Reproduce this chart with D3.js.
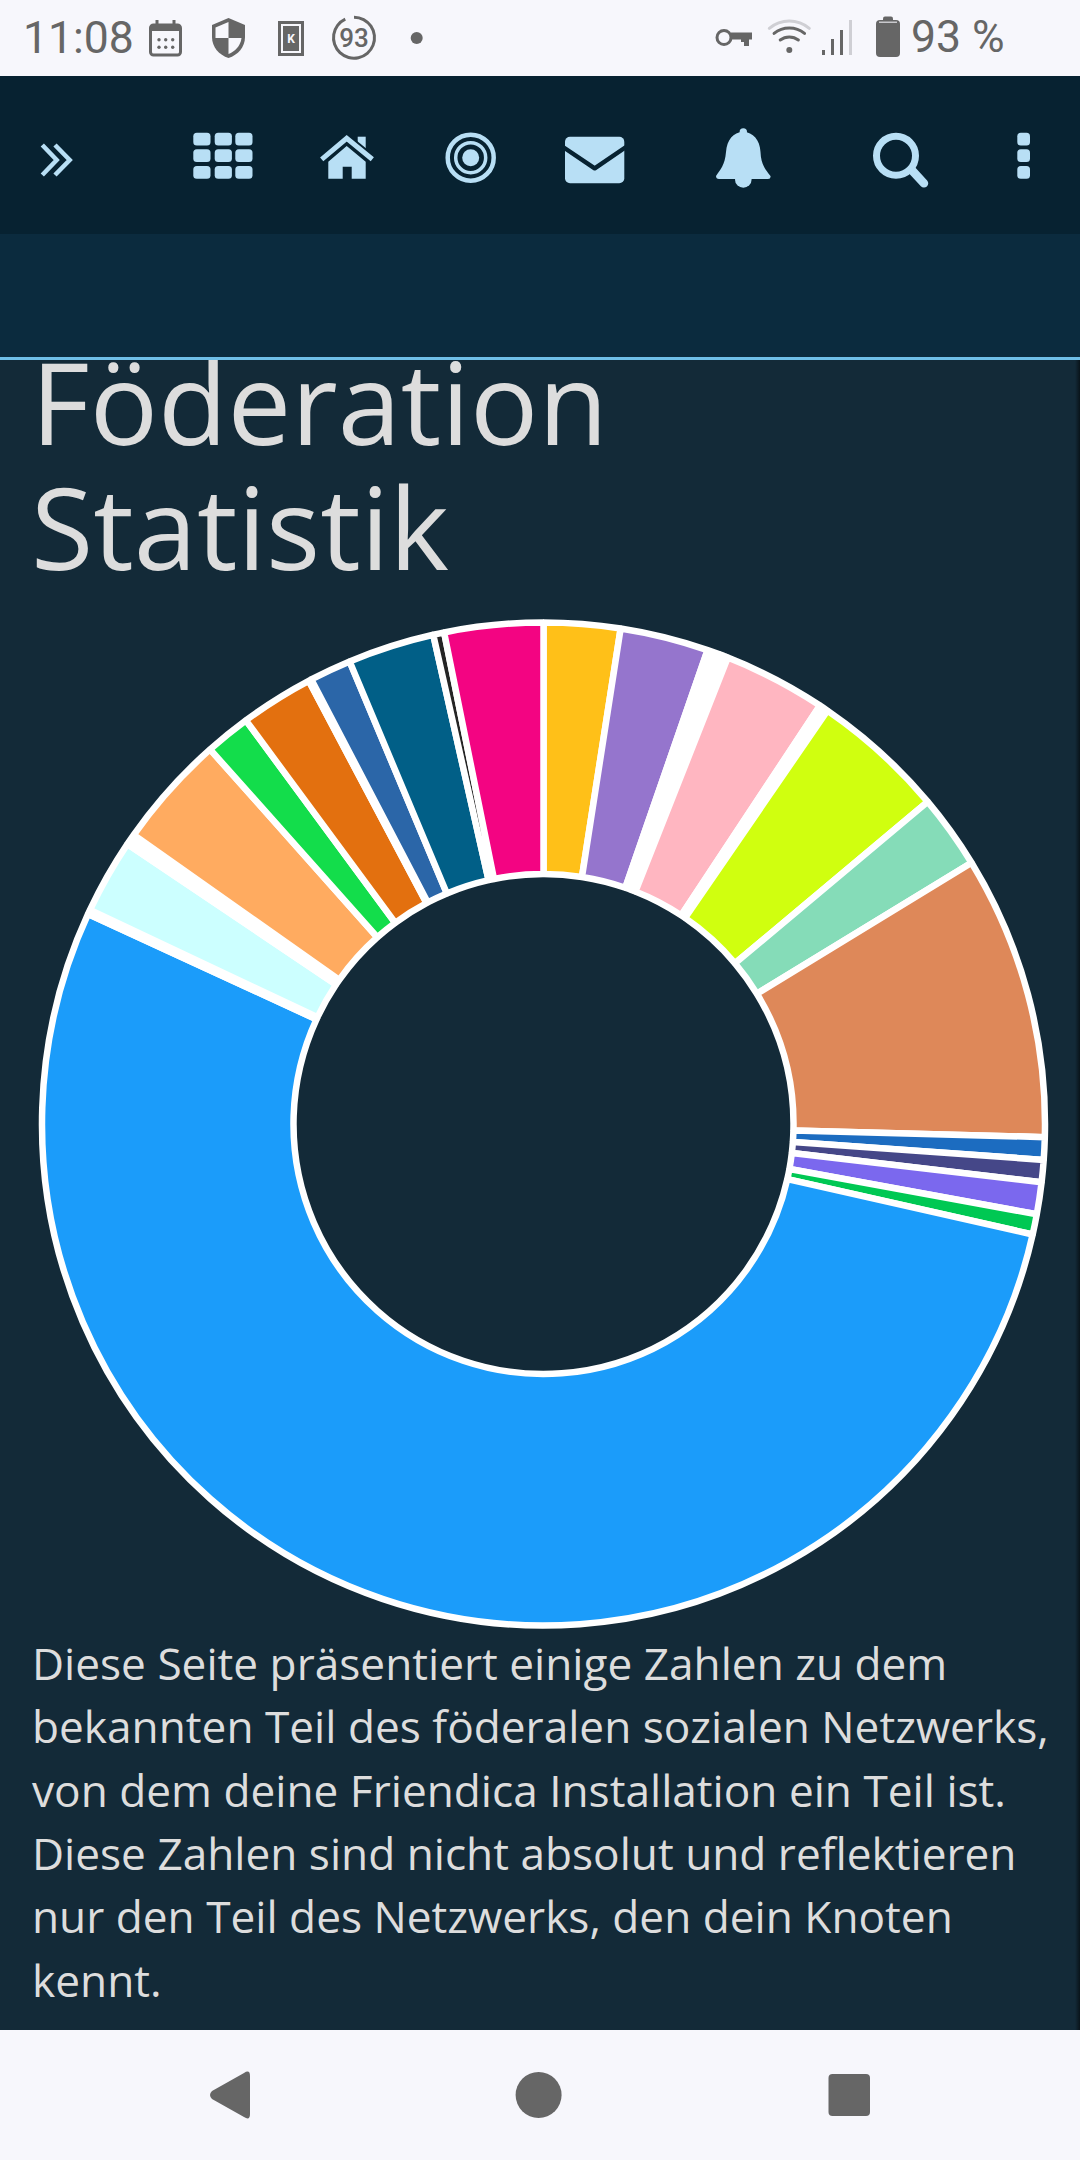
<!DOCTYPE html>
<html lang="de">
<head>
<meta charset="utf-8">
<title>Föderation Statistik</title>
<script src="https://cdn.jsdelivr.net/npm/d3@7"></script>
<style>
html, body { margin: 0; padding: 0; background: #132a38; }
svg { display: block; }
</style>
</head>
<body>
<svg id="page"></svg>
<script>
// slice shares, in degrees of the ring, clockwise from 12 o'clock
const shares = [8.85, 10.25, 1.45, 0.7, 0.31, 11.89, 1.03, 15.52, 8.6, 32.9, 2.61, 2.56, 3.7, 2.36,
    192.03, 0.51, 8.65, 1.29, 13.12, 5.27, 8.49, 0.33, 4.84, 10.04, 1.27, 11.43];
const palette = ["#ffc018", "#9575cd", "#ffffff", "#9e9e9e", "#ffffff", "#ffb6c1", "#ffffff", "#d0ff0f",
    "#85dcb8", "#de8859", "#1c6cc0", "#454788", "#7b68ee", "#00c853",
    "#1b9cfa", "#ffffff", "#ccffff", "#ffffff", "#ffab60", "#13dd4b", "#e3700f", "#ffffff",
    "#2b66a8", "#015f87", "#252525", "#f30482"];
const titleLines = ["Föderation", "Statistik"];
const introLines = [
    "Diese Seite präsentiert einige Zahlen zu dem",
    "bekannten Teil des föderalen sozialen Netzwerks,",
    "von dem deine Friendica Installation ein Teil ist.",
    "Diese Zahlen sind nicht absolut und reflektieren",
    "nur den Teil des Netzwerks, den dein Knoten",
    "kennt."
];
const batteryPercent = 93;

const width = 1080, height = 2160;
const grey = "#666666", chrome = "#f7f7fc", iconBlue = "#b8dff5", headerDark = "#072231";

const svg = d3.select("#page").attr("width", width).attr("height", height)
    .attr("viewBox", `0 0 ${width} ${height}`);

svg.append("rect").attr("width", width).attr("height", height).attr("fill", "#132a38");

// page text first, the fixed header sits on top of it and cuts the title
svg.append("g").selectAll("text").data(titleLines).join("text")
    .attr("x", 31).attr("y", (d, i) => 445 + i * 125)
    .attr("font-family", "'Open Sans'").attr("font-size", 113.6).attr("fill", "#dddddd")
    .text(d => d);

svg.append("g").selectAll("text").data(introLines).join("text")
    .attr("x", 32).attr("y", (d, i) => 1680 + i * 63.3)
    .attr("font-family", "'Open Sans'").attr("font-size", 44.2).attr("fill", "#dddddd")
    .text(d => d);

// the doughnut
const color = d3.scaleOrdinal().domain(d3.range(shares.length)).range(palette);
const pie = d3.pie().sort(null).value(d => d);
const arc = d3.arc().innerRadius(250).outerRadius(501.5);

svg.append("g").attr("transform", "translate(543.5,1124)")
    .selectAll("path").data(pie(shares)).join("path")
    .attr("d", arc)
    .attr("fill", (d, i) => color(i))
    .attr("stroke", "#ffffff").attr("stroke-width", 6.5).attr("stroke-linejoin", "bevel");

// right edge shadow of the scroll area
const edge = svg.append("defs").append("linearGradient").attr("id", "edge");
edge.append("stop").attr("offset", 0).attr("stop-color", "#000").attr("stop-opacity", 0);
edge.append("stop").attr("offset", 1).attr("stop-color", "#000").attr("stop-opacity", 0.55);
svg.append("rect").attr("x", 1075).attr("y", 234).attr("width", 5).attr("height", 1796).attr("fill", "url(#edge)");

// header bands
svg.append("rect").attr("y", 76).attr("width", width).attr("height", 158).attr("fill", headerDark);
svg.append("rect").attr("y", 234).attr("width", width).attr("height", 123).attr("fill", "#0b2b3e");
svg.append("rect").attr("y", 357).attr("width", width).attr("height", 3).attr("fill", "#6fbfe8");

// status bar and android nav bar
svg.append("rect").attr("width", width).attr("height", 76).attr("fill", chrome);
svg.append("rect").attr("y", 2030).attr("width", width).attr("height", 130).attr("fill", chrome);

function shape(parent, tag, attrs) {
    const el = parent.append(tag);
    Object.entries(attrs).forEach(([k, v]) => el.attr(k, v));
    return el;
}

const status = svg.append("g").attr("fill", grey);
const statusText = (x, y, size, txt, weight) => shape(status, "text", {
    x: x, y: y, "font-family": "Roboto", "font-size": size, "font-weight": weight || 400
}).text(txt);

statusText(23, 53, 44.5, "11:08");
statusText(911, 52, 44.5, batteryPercent + " %");

// calendar
shape(status, "rect", { x: 150.5, y: 25, width: 30, height: 30, rx: 3, fill: "none", stroke: grey, "stroke-width": 3 });
shape(status, "rect", { x: 150, y: 26, width: 31, height: 5 });
shape(status, "rect", { x: 155.5, y: 20, width: 3, height: 6 });
shape(status, "rect", { x: 172.5, y: 20, width: 3, height: 6 });
[39.7, 47.3].forEach(y => [159, 165.7, 172.7].forEach(x => shape(status, "circle", { cx: x, cy: y, r: 1.7 })));

// shield
shape(status, "path", { d: "M228.5 18L245 25V37C245 47 238 55 228.5 58C219 55 212 47 212 37V25Z" });
shape(status, "path", { d: "M228.5 22L215.5 27.5V38H228.5Z", fill: chrome });
shape(status, "path", { d: "M228.5 38H241.5C240.5 46 235 51.5 228.5 54Z", fill: chrome });

// K badge
shape(status, "rect", { x: 278, y: 21, width: 26, height: 35 });
shape(status, "rect", { x: 281, y: 24, width: 20, height: 29, fill: chrome });
shape(status, "rect", { x: 283, y: 26, width: 16, height: 25 });
shape(status, "text", { x: 291, y: 43, "text-anchor": "middle", "font-family": "Roboto", "font-size": 12, "font-weight": 700, fill: chrome }).text("K");

// data usage ring
shape(status, "path", {
    transform: "translate(354,37.7)",
    d: d3.arc().innerRadius(19).outerRadius(22).startAngle(0).endAngle(batteryPercent / 100 * 2 * Math.PI)()
});
shape(status, "text", { x: 354, y: 47, "text-anchor": "middle", "font-family": "Roboto", "font-size": 26, "font-weight": 500 }).text(batteryPercent);
shape(status, "circle", { cx: 416.7, cy: 38, r: 6 });

// key
shape(status, "circle", { cx: 724, cy: 37.5, r: 7, fill: "none", stroke: grey, "stroke-width": 3 });
shape(status, "path", { d: "M731 32.5H752V39.5H749V46H744V42H741V39.5H731Z" });

// wifi
const wifiArc = r => d3.arc().innerRadius(r - 1.5).outerRadius(r + 1.5).startAngle(-0.75).endAngle(0.75).cornerRadius(1.5)();
shape(status, "path", { transform: "translate(789.3,52)", d: wifiArc(31), fill: "#cfcfd4" });
shape(status, "path", { transform: "translate(789.3,52)", d: wifiArc(24) });
shape(status, "path", { transform: "translate(789.3,52)", d: wifiArc(15) });
shape(status, "circle", { cx: 789.3, cy: 50, r: 3 });

// signal bars
[[822, 50, grey], [831, 39, grey], [840, 30, grey], [849, 20, "#cfcfd4"]].forEach(b =>
    shape(status, "rect", { x: b[0], y: b[1], width: 3, height: 55 - b[1], fill: b[2] }));

// battery
shape(status, "rect", { x: 876, y: 20, width: 24, height: 37, rx: 4 });
shape(status, "rect", { x: 883, y: 16.5, width: 10, height: 6, rx: 2 });
shape(status, "rect", { x: 879, y: 21.5, width: 18, height: 1.5, fill: "#c8c8cc" });

// nav buttons
shape(svg, "path", { d: "M244 2073Q250 2069 250 2076V2114Q250 2121 244 2117L212 2099Q208 2095 212 2091Z", fill: grey });
shape(svg, "circle", { cx: 538.6, cy: 2095, r: 23, fill: grey });
shape(svg, "rect", { x: 828.5, y: 2074, width: 41.5, height: 42, rx: 4, fill: grey });

// top menu icons
const menu = svg.append("g").attr("fill", iconBlue);
const rows = [132.7, 149.3, 166], cellH = 12.7;

shape(menu, "path", { d: "M42.3 145L56.7 160L42.3 175M55 145L69.7 160L55 175", fill: "none", stroke: iconBlue, "stroke-width": 4.5 });

rows.forEach(y => {
    [193.3, 214.7, 235.3].forEach(x => shape(menu, "rect", { x: x, y: y, width: 17.2, height: cellH, rx: 3.5 }));
    shape(menu, "rect", { x: 1017.3, y: y, width: 12.7, height: cellH, rx: 3.5 });
});

// house
shape(menu, "rect", { x: 357.7, y: 136.7, width: 8, height: 12 });
shape(menu, "path", { d: "M321.7 159.3L346.7 138.3L372.3 159.3", fill: "none", stroke: headerDark, "stroke-width": 9 });
shape(menu, "path", { d: "M321.7 159.3L346.7 138.3L372.3 159.3", fill: "none", stroke: iconBlue, "stroke-width": 5 });
shape(menu, "path", { d: "M328.3 161.7L346.7 146L365.7 161.7V178.7H351.7V166.7H342.7V178.7H328.3Z" });

// target
shape(menu, "circle", { cx: 470.7, cy: 157.7, r: 23, fill: "none", stroke: iconBlue, "stroke-width": 4.5 });
shape(menu, "circle", { cx: 470.7, cy: 157.7, r: 15, fill: "none", stroke: iconBlue, "stroke-width": 3.5 });
shape(menu, "circle", { cx: 470.7, cy: 157.7, r: 8.5 });

// envelope
shape(menu, "rect", { x: 565, y: 136.7, width: 59.3, height: 46.6, rx: 5 });
shape(menu, "path", { d: "M563 147L594.7 168.3L626 147", fill: "none", stroke: headerDark, "stroke-width": 4.5, "stroke-linejoin": "round" });

// bell
shape(menu, "circle", { cx: 743.3, cy: 132, r: 3.7 });
shape(menu, "circle", { cx: 743.3, cy: 179.5, r: 8.3 });
shape(menu, "path", { d: "M743.3 132C733 132 727 140 726 152C725 165 720 170 716 176Q716 179 719 179H768Q771 179 770.5 176C766 170 761 165 760.5 152C760 140 753 132 743.3 132Z" });

// search
shape(menu, "circle", { cx: 896, cy: 155.7, r: 19.5, fill: "none", stroke: iconBlue, "stroke-width": 7 });
shape(menu, "line", { x1: 911.7, y1: 170, x2: 924, y2: 183.3, stroke: iconBlue, "stroke-width": 8.5, "stroke-linecap": "round" });
</script>
</body>
</html>
